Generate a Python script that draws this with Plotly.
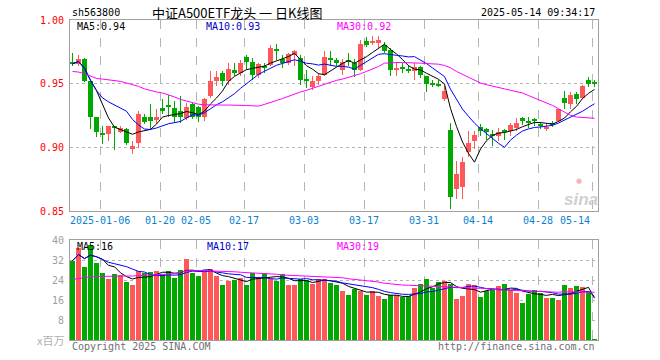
import plotly.graph_objects as go
import pandas as pd

# ---------------- data ----------------
opens = [
    0.9666, 0.9655, 0.9692, 0.9518, 0.9241, 0.9106, 0.9104, 0.9163, 0.9122, 0.9142,
    0.8987, 0.9034, 0.9238, 0.9241, 0.9215, 0.9306, 0.9321, 0.9311, 0.9285, 0.9233,
    0.9337, 0.9319, 0.9241, 0.9407, 0.9518, 0.9583, 0.9518, 0.9604, 0.9583, 0.9707,
    0.9674, 0.9570, 0.9632, 0.9648, 0.9766, 0.9692, 0.9661, 0.9725, 0.9700, 0.9528,
    0.9474, 0.9523, 0.9570, 0.9694, 0.9687, 0.9604, 0.9687, 0.9661, 0.9604, 0.9834,
    0.9816, 0.9821, 0.9803, 0.9764, 0.9609, 0.9619, 0.9617, 0.9596, 0.9630, 0.9557,
    0.9494, 0.9486, 0.9381, 0.9137, 0.8671, 0.8689, 0.8966, 0.9052, 0.9163, 0.9142,
    0.9098, 0.9091, 0.9126, 0.9129, 0.9155, 0.9233, 0.9199, 0.9214, 0.9187, 0.9150,
    0.9178, 0.9207, 0.9389, 0.9337, 0.9420, 0.9389, 0.9531, 0.9502]
closes = [
    0.9655, 0.9692, 0.9518, 0.9241, 0.9122, 0.9104, 0.9168, 0.9155, 0.9148, 0.9034,
    0.9008, 0.9259, 0.9199, 0.9205, 0.9241, 0.9285, 0.9319, 0.9241, 0.9241, 0.9319,
    0.9241, 0.9241, 0.9383, 0.9518, 0.9554, 0.9518, 0.9614, 0.9583, 0.9661, 0.9674,
    0.9570, 0.9655, 0.9630, 0.9777, 0.9764, 0.9661, 0.9733, 0.9756, 0.9531, 0.9526,
    0.9523, 0.9557, 0.9712, 0.9692, 0.9666, 0.9668, 0.9668, 0.9609, 0.9811, 0.9803,
    0.9834, 0.9842, 0.9759, 0.9604, 0.9627, 0.9617, 0.9596, 0.9630, 0.9570, 0.9497,
    0.9492, 0.9484, 0.9440, 0.8611, 0.8793, 0.8883, 0.9034, 0.9096, 0.9129, 0.9117,
    0.9096, 0.9117, 0.9124, 0.9174, 0.9189, 0.9207, 0.9197, 0.9212, 0.9168, 0.9163,
    0.9176, 0.9298, 0.9345, 0.9414, 0.9376, 0.9484, 0.9500, 0.9500]
highs = [
    0.9744, 0.9725, 0.9700, 0.9523, 0.9241, 0.9168, 0.9168, 0.9168, 0.9168, 0.9155,
    0.9052, 0.9285, 0.9259, 0.9337, 0.9303, 0.9376, 0.9414, 0.9363, 0.9407, 0.9345,
    0.9345, 0.9324, 0.9389, 0.9596, 0.9596, 0.9596, 0.9661, 0.9661, 0.9687, 0.9725,
    0.9700, 0.9661, 0.9661, 0.9803, 0.9811, 0.9725, 0.9738, 0.9764, 0.9725, 0.9609,
    0.9557, 0.9583, 0.9759, 0.9759, 0.9700, 0.9692, 0.9744, 0.9692, 0.9842, 0.9868,
    0.9873, 0.9873, 0.9829, 0.9777, 0.9674, 0.9661, 0.9648, 0.9666, 0.9635, 0.9557,
    0.9531, 0.9526, 0.9484, 0.9189, 0.8896, 0.8927, 0.9129, 0.9129, 0.9181, 0.9148,
    0.9137, 0.9155, 0.9142, 0.9194, 0.9233, 0.9241, 0.9241, 0.9233, 0.9199, 0.9194,
    0.9207, 0.9303, 0.9440, 0.9433, 0.9433, 0.9492, 0.9552, 0.9531]
lows = [
    0.9640, 0.9640, 0.9510, 0.9142, 0.9085, 0.9026, 0.9052, 0.8982, 0.9111, 0.9018,
    0.8948, 0.8992, 0.9181, 0.9142, 0.9181, 0.9259, 0.9241, 0.9194, 0.9194, 0.9215,
    0.9220, 0.9199, 0.9207, 0.9389, 0.9484, 0.9479, 0.9492, 0.9557, 0.9557, 0.9609,
    0.9531, 0.9544, 0.9583, 0.9635, 0.9687, 0.9622, 0.9648, 0.9635, 0.9492, 0.9466,
    0.9448, 0.9492, 0.9557, 0.9640, 0.9635, 0.9565, 0.9635, 0.9552, 0.9596, 0.9790,
    0.9803, 0.9777, 0.9738, 0.9557, 0.9557, 0.9583, 0.9583, 0.9526, 0.9544, 0.9433,
    0.9474, 0.9474, 0.9363, 0.8515, 0.8598, 0.8598, 0.8922, 0.8987, 0.9091, 0.9060,
    0.9013, 0.9052, 0.9060, 0.9091, 0.9129, 0.9176, 0.9150, 0.9168, 0.9142, 0.9129,
    0.9163, 0.9199, 0.9298, 0.9298, 0.9337, 0.9376, 0.9474, 0.9474]
volumes = [
    31.7, 36.7, 29.3, 38.0, 30.8, 26.8, 24.4, 26.4, 26.0, 23.2,
    22.0, 27.6, 26.8, 27.2, 27.6, 26.3, 27.6, 24.9, 28.0, 32.4,
    26.9, 25.6, 27.2, 28.4, 25.6, 22.0, 23.6, 24.2, 24.9, 22.0,
    27.0, 24.8, 26.8, 24.6, 23.6, 26.4, 22.0, 22.0, 24.4, 24.0,
    22.5, 24.4, 24.6, 22.9, 22.0, 19.7, 18.0, 20.5, 19.7, 18.0,
    19.6, 17.6, 16.4, 18.0, 18.0, 17.2, 17.5, 20.9, 22.4, 24.6,
    21.0, 23.3, 23.7, 22.4, 16.4, 17.6, 22.4, 22.0, 17.3, 19.5,
    20.2, 21.6, 22.4, 20.1, 18.9, 14.9, 18.4, 20.0, 19.0, 16.9,
    16.9, 16.0, 22.0, 20.9, 21.6, 21.2, 19.6, 0.4]
ma30_price = [
    0.9596, 0.9591, 0.9578, 0.9557, 0.9541, 0.9536, 0.9531, 0.9526, 0.9518, 0.9505,
    0.9492, 0.9479, 0.9459, 0.9446, 0.9435, 0.9427, 0.9414, 0.9396, 0.9376, 0.9363,
    0.9350, 0.9339, 0.9334, 0.9332, 0.9332, 0.9332, 0.9332, 0.9332, 0.9329, 0.9329,
    0.9326, 0.9324, 0.9337, 0.9350, 0.9368, 0.9383, 0.9402, 0.9420, 0.9435, 0.9448,
    0.9464, 0.9479, 0.9497, 0.9513, 0.9526, 0.9536, 0.9549, 0.9562, 0.9578, 0.9596,
    0.9614, 0.9635, 0.9661, 0.9666, 0.9666, 0.9666, 0.9666, 0.9663, 0.9661, 0.9658,
    0.9655, 0.9653, 0.9643, 0.9625, 0.9596, 0.9573, 0.9552, 0.9526, 0.9505, 0.9492,
    0.9479, 0.9469, 0.9459, 0.9448, 0.9438, 0.9427, 0.9407, 0.9389, 0.9370, 0.9350,
    0.9329, 0.9303, 0.9277, 0.9251, 0.9238, 0.9233, 0.9231, 0.9228]
ma30_vol = [
    24.2, 24.6, 25.0, 25.3, 25.4, 25.5, 25.6, 25.6, 25.6, 25.6,
    25.6, 25.7, 25.7, 25.9, 26.0, 26.3, 26.4, 26.5, 27.1, 27.6,
    27.7, 27.9, 27.8, 27.6, 27.6, 27.6, 27.5, 27.3, 27.1, 27.0,
    26.7, 26.6, 26.4, 26.3, 26.3, 26.0, 25.9, 25.7, 25.5, 25.3,
    25.2, 25.2, 25.1, 24.9, 25.0, 24.9, 24.5, 24.3, 24.0, 23.7,
    23.5, 23.2, 22.7, 22.4, 22.1, 22.0, 21.9, 21.7, 21.7, 21.6,
    21.5, 21.3, 21.3, 21.2, 21.1, 20.9, 20.8, 20.7, 20.7, 20.4,
    20.3, 20.1, 20.0, 19.9, 19.7, 19.6, 19.5, 19.3, 19.3, 19.2,
    19.2, 19.1, 19.3, 19.3, 19.3, 19.3, 19.3, 19.1]

tick_index = [5, 15, 21, 29, 39, 49, 59, 68, 78, 87]
tick_labels = ["2025-01-06", "01-20", "02-05", "02-17", "03-03", "03-17",
               "03-31", "04-14", "04-28", "05-14"]
price_ticks = [0.85, 0.90, 0.95, 1.00]
vol_ticks = [8, 16, 24, 32, 40]

# ---------------- derived ----------------
n = len(closes)
idx = list(range(n))
RED, GREEN = "#FF5858", "#00A800"
colors = [RED if c >= o else GREEN for o, c in zip(opens, closes)]
body_base = [min(o, c) for o, c in zip(opens, closes)]
body_h = [max(abs(c - o), 0.0008) for o, c in zip(opens, closes)]
wick_h = [h - l for h, l in zip(highs, lows)]
cs = pd.Series(closes)
vs = pd.Series(volumes)
ma5p = cs.rolling(5, min_periods=1).mean()
ma10p = cs.rolling(10, min_periods=1).mean()
ma5v = vs.rolling(5, min_periods=1).mean()
ma10v = vs.rolling(10, min_periods=1).mean()

XOFF = 5.0 / 12.0  # grid lines sit on the left edge of a candle
grid_x = [i - XOFF for i in tick_index]

MONO = "DejaVu Sans Mono"
fig = go.Figure()
fig.add_trace(go.Bar(x=idx, y=wick_h, base=lows, width=1 / 6,
                     marker=dict(color=colors, line_width=0), xaxis="x", yaxis="y"))
fig.add_trace(go.Bar(x=idx, y=body_h, base=body_base, width=5 / 6,
                     marker=dict(color=colors, line_width=0), xaxis="x", yaxis="y"))
for s, col in [(ma5p, "#000000"), (ma10p, "#0000FF"), (ma30_price, "#FF00FF")]:
    fig.add_trace(go.Scatter(x=idx, y=list(s), mode="lines",
                             line=dict(color=col, width=1), xaxis="x", yaxis="y"))
fig.add_trace(go.Bar(x=idx, y=volumes, width=5 / 6,
                     marker=dict(color=colors, line_width=0), xaxis="x2", yaxis="y2"))
for s, col in [(ma5v, "#000000"), (ma10v, "#0000FF"), (ma30_vol, "#FF00FF")]:
    fig.add_trace(go.Scatter(x=idx, y=list(s), mode="lines",
                             line=dict(color=col, width=1), xaxis="x2", yaxis="y2"))

frame = "#A0A0A0"
grid = "#B4B4B4"
xcommon = dict(range=[-XOFF, n - XOFF], tickvals=grid_x, showticklabels=False,
               showgrid=True, gridcolor=grid, griddash="dash", gridwidth=1,
               showline=True, mirror=True, linecolor=frame, linewidth=1,
               zeroline=False, ticks="", fixedrange=True)

annotations = []
for ti, tl in zip(tick_index, tick_labels):
    last = ti == tick_index[-1]
    annotations.append(dict(x=ti - XOFF, y=0.372, xref="x", yref="paper", text=tl,
                            showarrow=False, xanchor="right" if last else "center",
                            yanchor="middle",
                            font=dict(family=MONO, size=10, color="#0A7FD2")))

def txt(px, py, text, color="#000000", anchor="left", size=10, family=MONO):
    annotations.append(dict(x=(px - 70) / 528, y=(340 - py) / 320, xref="paper",
                            yref="paper", text=text, showarrow=False, xanchor=anchor,
                            yanchor="middle", font=dict(family=family, size=size,
                                                        color=color)))

txt(70, 12.7, "sh563800")
txt(150, 12.5, "中证A500ETF龙头 一 日K线图", size=13, family="Noto Sans CJK SC")
txt(597, 12.7, "2025-05-14 09:34:17", anchor="right")
txt(75, 26, "MA5:0.94")
txt(204, 26, "MA10:0.93", color="#0000CC")
txt(334.5, 26, "MA30:0.92", color="#FF00FF")
txt(75, 246.3, "MA5:16")
txt(204.5, 246.3, "MA10:17", color="#0000CC")
txt(334.5, 246.3, "MA30:19", color="#FF00FF")
txt(66, 339.5, "x百万", color="#B0B0B0", anchor="right", size=11, family="Noto Sans CJK SC")
txt(70, 346, "Copyright 2025 SINA.COM", color="#707070")
txt(597, 346, "http://finance.sina.com.cn", color="#707070", anchor="right")
txt(581, 199, "<b><i>sina</i></b>", color="#CFCFCF", anchor="center", size=17,
    family="Liberation Sans")
txt(579, 181, "●", color="#F2B8B8", anchor="center", size=7, family="DejaVu Sans")

fig.update_layout(
    width=660, height=360, margin=dict(l=70, r=62, t=20, b=20),
    paper_bgcolor="white", plot_bgcolor="white", showlegend=False,
    barmode="overlay", bargap=0,
    xaxis=dict(anchor="y", **xcommon),
    xaxis2=dict(anchor="y2", matches="x", **xcommon),
    yaxis=dict(domain=[0.403125, 1.0], range=[0.85, 1.0], tickvals=price_ticks,
               ticktext=[f"{v:.2f}" for v in price_ticks],
               tickfont=dict(family=MONO, size=10, color="#FF0000"),
               showgrid=True, gridcolor=grid, griddash="dot", gridwidth=1,
               showline=True, mirror=True, linecolor=frame, linewidth=1,
               zeroline=False, ticks="", ticklabelstandoff=3, fixedrange=True),
    yaxis2=dict(domain=[0.0, 0.3125], range=[0, 40], tickvals=vol_ticks,
                tickfont=dict(family=MONO, size=10, color="#A0A0A0"),
                showgrid=True, gridcolor=grid, griddash="dot", gridwidth=1,
                showline=True, mirror=True, linecolor=frame, linewidth=1,
                zeroline=False, ticks="", ticklabelstandoff=3, fixedrange=True),
    annotations=annotations,
)
fig.write_html("out.html", config={"displayModeBar": False},
               post_script="document.body.style.margin='0';document.body.style.padding='0';")
